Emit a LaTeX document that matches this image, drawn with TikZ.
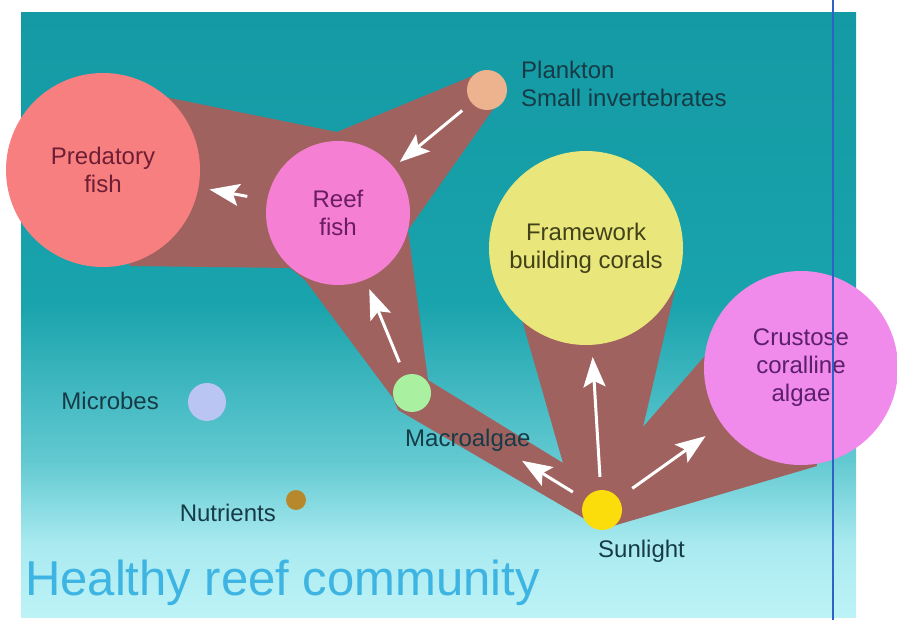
\documentclass[tikz,border=0pt]{standalone}
\usepackage{fontspec}
\setmainfont{Liberation Sans}
\usetikzlibrary{arrows.meta}
\definecolor{seatop}{HTML}{149AA4}
\definecolor{seamid}{HTML}{19A3AC}
\definecolor{sealow}{HTML}{62C9D1}
\definecolor{seapale}{HTML}{A9EAF0}
\definecolor{seabot}{HTML}{BDF3F7}
\definecolor{wedgec}{HTML}{A0625F}
\definecolor{predc}{HTML}{F87F80}
\definecolor{reefc}{HTML}{F57FD2}
\definecolor{coralc}{HTML}{E9E67B}
\definecolor{ccac}{HTML}{F08BEB}
\definecolor{plankc}{HTML}{EDB38F}
\definecolor{macroc}{HTML}{A9F1A0}
\definecolor{microc}{HTML}{BAC5F3}
\definecolor{nutric}{HTML}{B8882C}
\definecolor{sunc}{HTML}{FADD0B}
\definecolor{predt}{HTML}{6E1E34}
\definecolor{reeft}{HTML}{6A1C63}
\definecolor{coralt}{HTML}{42421A}
\definecolor{ccat}{HTML}{5B1F6B}
\definecolor{labelc}{HTML}{163B47}
\definecolor{titlec}{HTML}{3DB4E2}
\definecolor{linec}{HTML}{2F62C6}
\pgfdeclareverticalshading{seashade}{100bp}{color(0bp)=(seabot);
  color(25bp)=(seabot); color(31bp)=(seapale); color(38bp)=(sealow);
  color(51bp)=(seamid); color(75bp)=(seatop); color(100bp)=(seatop)}
\newcommand{\bigunit}[6]{%
  \node[circle, fill=#3, text=#4, minimum size=#5, inner sep=0pt,
        align=center] (#1) at #2 {#6};
}
\newcommand{\dotunit}[4]{%
  \node[circle, fill=#3, minimum size=#4, inner sep=0pt] (#1) at #2 {};
}

\begin{document}
\begin{tikzpicture}[x=1pt, y=-1pt,
    flow/.style={-{Stealth[length=30pt, width=22pt, inset=6pt]},
                 white, line width=3pt},
    tag/.style={text=labelc, inner sep=0pt},
    font=\fontsize{24}{28}\selectfont]
  \useasboundingbox (0,0) rectangle (897,620);
  % sea
  \shade[shading=seashade] (21,13) rectangle (856,617);
  % biomass wedges
  \fill[wedgec] (165,97) -- (337,132) -- (470,77) -- (487,70) -- (505,86)
    -- (494,108) -- (408,230) -- (428,380) -- (563,463) -- (522,320)
    -- (586,300) -- (675,290) -- (643,427) -- (710,350) -- (801,368)
    -- (817,466) -- (613,526) -- (590,522) -- (398,410) -- (393,398)
    -- (305,280) -- (290,268) -- (130,266) -- (103,170) -- cycle;
  % community members
  \bigunit{pred}{(103,170)}{predc}{predt}{194pt}{Predatory\\fish}
  \bigunit{reef}{(338,213)}{reefc}{reeft}{144pt}{Reef\\fish}
  \bigunit{coral}{(586,248)}{coralc}{coralt}{194pt}{Framework\\building corals}
  \bigunit{cca}{(801,368)}{ccac}{ccat}{194pt}{Crustose\\coralline\\algae}
  \dotunit{plank}{(487,90)}{plankc}{40pt}
  \dotunit{macro}{(412,393)}{macroc}{38pt}
  \dotunit{micro}{(207,402)}{microc}{38pt}
  \dotunit{nutri}{(296,500)}{nutric}{20pt}
  \dotunit{sun}{(602,510)}{sunc}{40pt}
  % labels
  \node[tag, anchor=north west, align=left] (lplank) at (521,61)
    {Plankton\\Small invertebrates};
  \node[tag, anchor=base west] (lmacro) at (405,446) {Macroalgae};
  \node[tag, anchor=base east] (lmicro) at (159,409) {Microbes};
  \node[tag, anchor=base east] (lnutri) at (276,521) {Nutrients};
  \node[tag, anchor=base west] (lsun) at (598,557) {Sunlight};
  \node[text=titlec, inner sep=0pt, anchor=base west,
        font=\fontsize{49}{53}\selectfont] (title) at (25,595)
    {Healthy reef community};
  % energy flow
  \draw[flow, shorten <=12pt, shorten >=8pt] (plank) -- (reef);
  \draw[flow, shorten <=20pt, shorten >=11pt] (reef) -- (pred);
  \draw[flow, shorten <=14pt, shorten >=10pt] (macro) -- (reef);
  \draw[flow, shorten <=14pt, shorten >=110pt] (sun) -- (macro);
  \draw[flow, shorten <=13pt, shorten >=12pt] (sun) -- (coral);
  \draw[flow, shorten <=17pt, shorten >=20pt] (sun) -- (cca);
  % slide edge
  \draw[linec, line width=2pt] (833,0) -- (833,620);
\end{tikzpicture}
\end{document}
